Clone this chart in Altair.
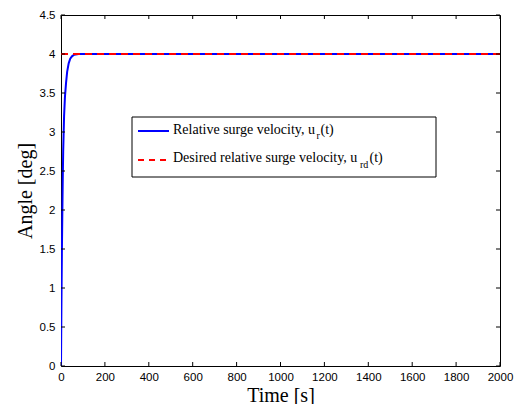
import altair as alt
import pandas as pd

# Data
t_vals = [0, 1, 2, 4, 6, 8, 10, 14, 18, 23, 28, 35, 42, 50, 60, 80, 2000]
u_vals = [0, 0.42, 0.8, 1.44, 1.95, 2.4, 2.75, 3.2, 3.45, 3.63, 3.77, 3.88, 3.94, 3.97, 3.99, 4.0, 4.0]
ref_t = [0, 2000]
ref_u = [4, 4]
x_ticks = [0, 200, 400, 600, 800, 1000, 1200, 1400, 1600, 1800, 2000]
y_ticks = [0, 0.5, 1, 1.5, 2, 2.5, 3, 3.5, 4, 4.5]
legend_labels = ["Relative surge velocity, u", "Desired relative surge velocity, u"]
legend_subs = ["r", "rd"]

W, H = 439, 351

xs = alt.Scale(domain=[0, 2000], nice=False, zero=False)
ys = alt.Scale(domain=[0, 4.5], nice=False, zero=False)

df_u = pd.DataFrame({"t": t_vals, "u": u_vals})
df_r = pd.DataFrame({"t": ref_t, "u": ref_u})
df_xt = pd.DataFrame({"t": x_ticks})
df_yt = pd.DataFrame({"u": y_ticks})
one = pd.DataFrame({"a": [0]})

x_axis = alt.Axis(values=x_ticks, format="d", title="Time [s]", grid=False, domain=False,
                  tickSize=0, labelFont="Liberation Sans", labelFontSize=11.5, labelColor="black",
                  labelPadding=5, labelOverlap=False, labelFlush=False,
                  titleFont="Liberation Serif", titleFontSize=20,
                  titleFontWeight="normal", titleColor="black", titleX=219.5, titleY=35,
                  titleBaseline="alphabetic", titleAlign="center")
y_axis = alt.Axis(values=y_ticks, format="~g", title="Angle [deg]",
                  grid=False, domain=False,
                  tickSize=0, labelFont="Liberation Sans", labelFontSize=11.5, labelColor="black",
                  labelPadding=6, labelOverlap=False, labelFlush=False,
                  titleFont="Liberation Serif", titleFontSize=20,
                  titleFontWeight="normal", titleColor="black", titleAngle=270,
                  titleX=-29.5, titleY=175.5, titleBaseline="alphabetic", titleAlign="center")

X = alt.X("t:Q", scale=xs, axis=x_axis)
Y = alt.Y("u:Q", scale=ys, axis=y_axis)

blue = alt.Chart(df_u).mark_line(color="#0000ff", strokeWidth=2, clip=True).encode(x=X, y=Y)
red = alt.Chart(df_r).mark_line(color="#ff0000", strokeWidth=2, strokeDash=[7, 5]).encode(x=X, y=Y)

tick_len = 4
xt_bot = alt.Chart(df_xt).mark_rule(color="black", strokeWidth=1).encode(
    x=X, y=alt.value(H), y2=alt.value(H - tick_len))
xt_top = alt.Chart(df_xt).mark_rule(color="black", strokeWidth=1).encode(
    x=X, y=alt.value(0), y2=alt.value(tick_len))
yt_left = alt.Chart(df_yt).mark_rule(color="black", strokeWidth=1).encode(
    y=Y, x=alt.value(0), x2=alt.value(tick_len))
yt_right = alt.Chart(df_yt).mark_rule(color="black", strokeWidth=1).encode(
    y=Y, x=alt.value(W), x2=alt.value(W - tick_len))

# Legend
leg_box = alt.Chart(one).mark_rect(fill="white", stroke="black", strokeWidth=1).encode(
    x=alt.value(71), x2=alt.value(375), y=alt.value(102), y2=alt.value(162))
leg_l1 = alt.Chart(one).mark_rule(color="#0000ff", strokeWidth=2).encode(
    x=alt.value(77), x2=alt.value(108), y=alt.value(116))
leg_l2 = alt.Chart(one).mark_rule(color="#ff0000", strokeWidth=2, strokeDash=[6, 5]).encode(
    x=alt.value(77), x2=alt.value(108), y=alt.value(145))

def txt(s, x, y, size):
    return alt.Chart(one).mark_text(text=s, font="Liberation Serif", fontSize=size, color="black",
                                    align="left", baseline="alphabetic").encode(
        x=alt.value(x), y=alt.value(y))

leg_texts = [
    txt(legend_labels[0], 112, 118.5, 14),
    txt(legend_subs[0], 255.5, 124, 10),
    txt("(t)", 259.5, 118.5, 14),
    txt(legend_labels[1], 112, 147, 14),
    txt(legend_subs[1], 299, 153, 10),
    txt("(t)", 308.5, 147, 14),
]

chart = alt.layer(blue, red, xt_bot, xt_top, yt_left, yt_right, leg_box, leg_l1, leg_l2,
                  *leg_texts).properties(
    width=W, height=H,
    autosize=alt.AutoSizeParams(type="none"),
    padding={"left": 53, "top": 7, "right": 22, "bottom": 38},
    background="white",
).configure_view(stroke="black", strokeWidth=1)

chart.save("out.html", embed_options={"renderer": "svg", "actions": False})
